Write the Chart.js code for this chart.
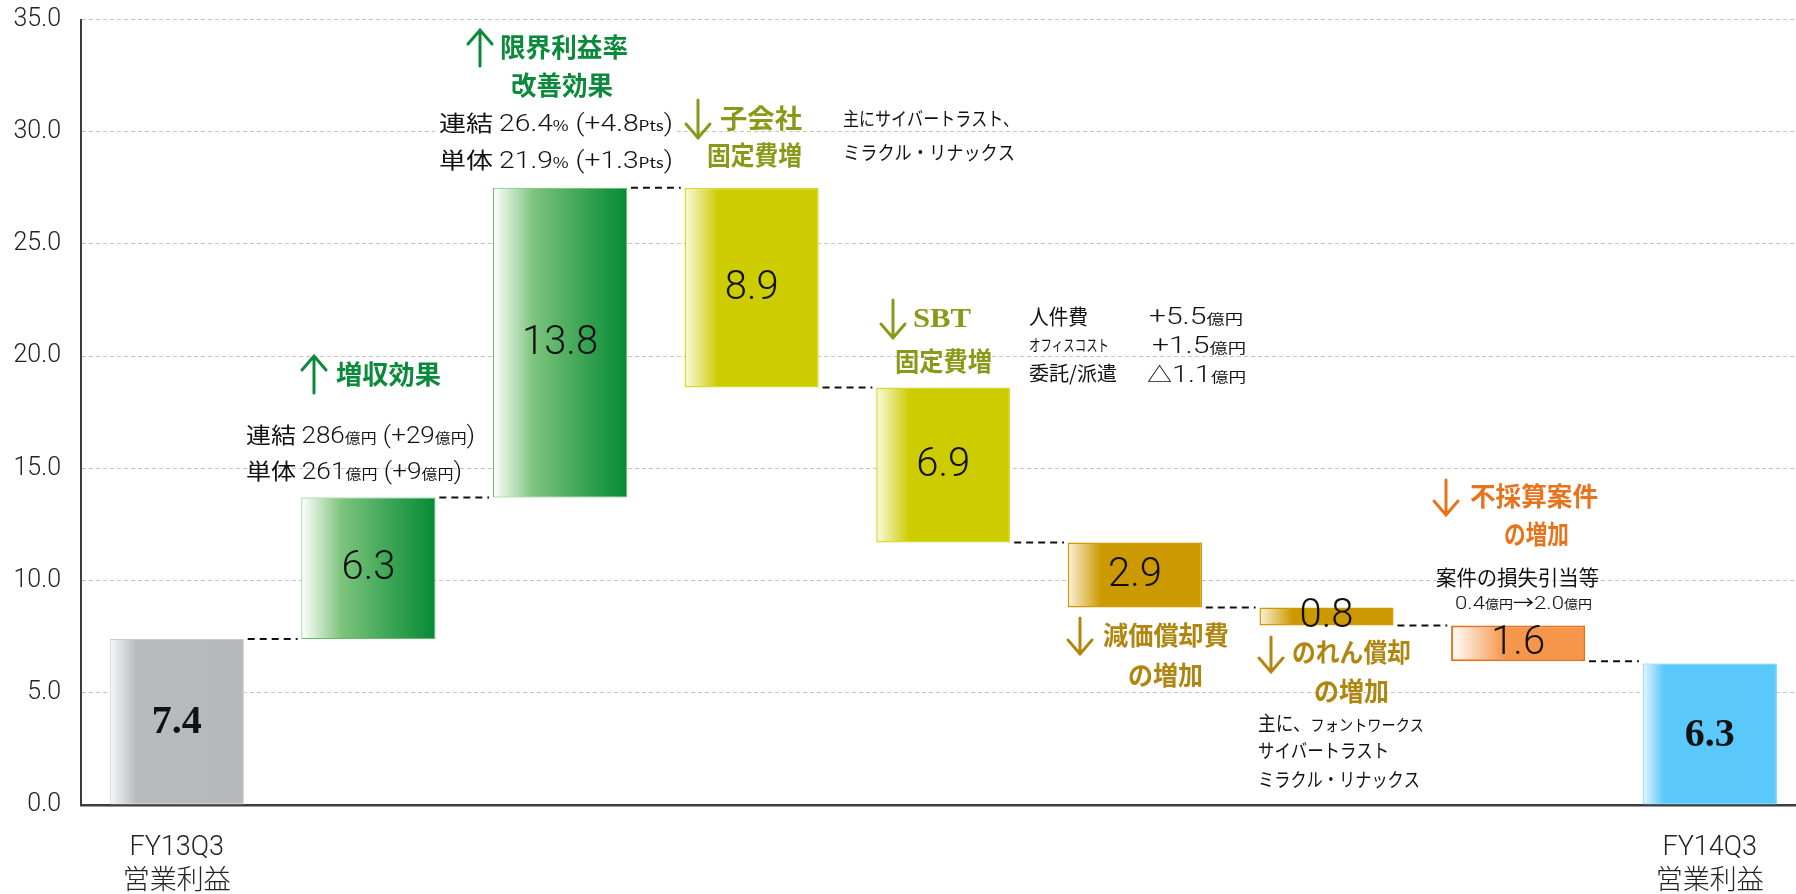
<!DOCTYPE html>
<html lang="ja">
<head>
<meta charset="UTF-8">
<title>営業利益 増減分析</title>
<script src="https://cdn.jsdelivr.net/npm/chart.js@4.4.1/dist/chart.umd.min.js"></script>
<style>
  html, body { margin: 0; padding: 0; background: #fff; }
  .box { width: 1796px; height: 894px; }
</style>
</head>
<body>
<div class="box"><canvas id="wf" width="1796" height="894"></canvas></div>
<script>
// data
var categories = ['FY13Q3 営業利益', '増収効果', '限界利益率改善効果', '子会社固定費増',
  'SBT固定費増', '減価償却費の増加', 'のれん償却の増加', '不採算案件の増加', 'FY14Q3 営業利益'];
var tickLabels = [['FY13Q3', '営業利益'], '', '', '', '', '', '', '', ['FY14Q3', '営業利益']];
var startValue = 7.4;
var steps = [6.3, 13.8, -8.9, -6.9, -2.9, -0.8, -1.6];
var endValue = 6.3;
var valueLabels = ['7.4', '6.3', '13.8', '8.9', '6.9', '2.9', '0.8', '1.6', '6.3'];
var barKind = ['gray', 'green', 'green', 'yellow', 'yellow', 'gold', 'gold', 'orange', 'blue'];

var fills = {
  gray:   { solid: '#b7babd', border: '#c9cbcd', width: 1, stops: [[0, '#f7f7f8'], [0.2, '#b8bbbe'], [1, '#b6b9bc']] },
  green:  { solid: '#3ea657', border: '#66bb6a', width: 1, stops: [[0, '#ffffff'], [0.3, '#7dc47c'], [0.65, '#3ea657'], [1, '#058a36']] },
  yellow: { solid: '#cccc00', border: '#d8d82e', width: 1.5, stops: [[0, '#fbfae0'], [0.25, '#cccc00'], [1, '#cccc00']] },
  gold:   { solid: '#cc9900', border: '#cc9900', width: 1.5, stops: [[0, '#fbf2da'], [0.25, '#cc9900'], [1, '#cc9900']] },
  orange: { solid: '#f5964a', border: '#e3701a', width: 2, stops: [[0, '#ffffff'], [0.4, '#f5964a'], [1, '#f5964a']] },
  blue:   { solid: '#5bc8fb', border: '#5bc8fb', width: 1, stops: [[0, '#e6f7ff'], [0.16, '#5bc8fb'], [1, '#5bc8fb']] }
};

// waterfall spans
var bars = [], levels = [];
var run = startValue;
bars.push({ x: 0, y: [0, startValue] });
levels.push(run);
steps.forEach(function (s, k) {
  var next = Math.round((run + s) * 10) / 10;
  bars.push({ x: k + 1, y: [Math.min(run, next), Math.max(run, next)] });
  run = next;
  levels.push(run);
});
bars.push({ x: bars.length, y: [0, endValue] });

var connectors = [];
levels.forEach(function (v, i) {
  connectors.push({ x: i + 0.37, y: v }, { x: i + 0.63, y: v }, { x: i + 0.5, y: null });
});

function barFill(c) {
  var ch = c.chart, xs = ch.scales.x;
  var i = c.dataIndex;
  if (i == null || !barKind[i]) return '#ccc';
  var f = fills[barKind[i]];
  if (!xs) return f.solid;
  var x0 = xs.getPixelForValue(i - 0.35), x1 = xs.getPixelForValue(i + 0.35);
  if (!isFinite(x0) || !isFinite(x1) || x0 === x1) return f.solid;
  var g = ch.ctx.createLinearGradient(x0, 0, x1, 0);
  f.stops.forEach(function (s) { g.addColorStop(s[0], s[1]); });
  return g;
}

var JP = "'Noto Sans CJK JP', sans-serif";
var NUM = "Roboto, 'Noto Sans CJK JP', sans-serif";
var GREEN = '#0b8a3b', OLIVE = '#8a9a18', GOLD = '#b08610', ORANGE = '#e8731c';

// [text, size, weight, family]
var notes = [
  { x: 336, y: 375, w: 105, color: GREEN, runs: [['増収効果', 26, 'bold']] },
  { x: 246, y: 435, w: 229, runs: [['連結 ', 22], ['286', 23, '300', NUM], ['億円', 14], [' (+29', 23, '300', NUM], ['億円', 14], [')', 23, '300', NUM]] },
  { x: 246, y: 471, w: 216, runs: [['単体 ', 22], ['261', 23, '300', NUM], ['億円', 14], [' (+9', 23, '300', NUM], ['億円', 14], [')', 23, '300', NUM]] },
  { x: 500, y: 48, w: 128, color: GREEN, bg: true, runs: [['限界利益率', 26, 'bold']] },
  { x: 511, y: 86, w: 102, color: GREEN, runs: [['改善効果', 26, 'bold']] },
  { x: 439, y: 123, w: 234, bg: true, runs: [['連結 ', 22], ['26.4', 23, '300', NUM], ['%', 14], [' (+4.8', 23, '300', NUM], ['Pts', 14], [')', 23, '300', NUM]] },
  { x: 439, y: 160, w: 234, runs: [['単体 ', 22], ['21.9', 23, '300', NUM], ['%', 14], [' (+1.3', 23, '300', NUM], ['Pts', 14], [')', 23, '300', NUM]] },
  { x: 720, y: 119, w: 82, color: OLIVE, runs: [['子会社', 26, 'bold']] },
  { x: 707, y: 156, w: 95, color: OLIVE, runs: [['固定費増', 26, 'bold']] },
  { x: 843, y: 119, w: 176, runs: [['主にサイバートラスト、', 19]] },
  { x: 843, y: 153, w: 172, runs: [['ミラクル・リナックス', 19]] },
  { x: 913, y: 317, w: 58, color: OLIVE, runs: [['SBT', 28, 'bold', "'Liberation Serif', serif"]] },
  { x: 895, y: 362, w: 97, color: OLIVE, runs: [['固定費増', 26, 'bold']] },
  { x: 1029, y: 316, w: 59, runs: [['人件費', 21]] },
  { x: 1149, y: 316, w: 94, runs: [['+5.5', 23, '300', NUM], ['億円', 14]] },
  { x: 1029, y: 345, w: 80, runs: [['オフィスコスト', 16]] },
  { x: 1152, y: 345, w: 94, runs: [['+1.5', 23, '300', NUM], ['億円', 14]] },
  { x: 1029, y: 374, w: 88, runs: [['委託/派遣', 20]] },
  { x: 1147, y: 374, w: 99, runs: [['△', 20], ['1.1', 23, '300', NUM], ['億円', 14]] },
  { x: 1103, y: 636, w: 126, color: GOLD, runs: [['減価償却費', 26, 'bold']] },
  { x: 1128, y: 676, w: 75, color: GOLD, runs: [['の増加', 26, 'bold']] },
  { x: 1292, y: 653, w: 119, color: GOLD, runs: [['のれん償却', 26, 'bold']] },
  { x: 1314, y: 692, w: 75, color: GOLD, runs: [['の増加', 26, 'bold']] },
  { x: 1258, y: 724, w: 166, runs: [['主に、', 20], ['フォントワークス', 16]] },
  { x: 1258, y: 751, w: 131, runs: [['サイバートラスト', 19]] },
  { x: 1258, y: 780, w: 162, runs: [['ミラクル・リナックス', 19]] },
  { x: 1470, y: 497, w: 128, color: ORANGE, runs: [['不採算案件', 26, 'bold']] },
  { x: 1504, y: 535, w: 65, color: ORANGE, runs: [['の増加', 26, 'bold']] },
  { x: 1436, y: 577, w: 163, runs: [['案件の損失引当等', 21]] },
  { x: 1455, y: 602, w: 137, runs: [['0.4', 19, '300', NUM], ['億円', 12], ['→', 18], ['2.0', 19, '300', NUM], ['億円', 12]] }
];
var arrows = [
  { x: 314, top: 356, bottom: 393, up: true, color: GREEN },
  { x: 480, top: 30, bottom: 66, up: true, color: GREEN },
  { x: 698, top: 100, bottom: 138, up: false, color: OLIVE },
  { x: 893, top: 300, bottom: 338, up: false, color: OLIVE },
  { x: 1080, top: 618, bottom: 654, up: false, color: GOLD },
  { x: 1271, top: 637, bottom: 672, up: false, color: GOLD },
  { x: 1446, top: 480, bottom: 515, up: false, color: ORANGE }
];

function fontOf(r) {
  return (r[2] || 'normal') + ' ' + r[1] + 'px ' + (r[3] || JP);
}

var notesPlugin = {
  id: 'notes',
  afterDatasetsDraw: function (chart) {
    var ctx = chart.ctx, xs = chart.scales.x, ys = chart.scales.y;
    ctx.save();
    // value labels inside bars
    ctx.textAlign = 'center';
    ctx.textBaseline = 'middle';
    ctx.fillStyle = '#111';
    bars.forEach(function (b, i) {
      var bold = (i === 0 || i === bars.length - 1);
      ctx.font = bold ? "bold 40px 'Liberation Serif', serif" : '300 40px ' + NUM;
      ctx.fillText(valueLabels[i], xs.getPixelForValue(i), ys.getPixelForValue((b.y[0] + b.y[1]) / 2) + 1);
    });
    // annotation text
    ctx.textAlign = 'left';
    ctx.textBaseline = 'alphabetic';
    notes.forEach(function (n) {
      var total = 0, main = 0;
      n.runs.forEach(function (r) { ctx.font = fontOf(r); total += ctx.measureText(r[0]).width; main = Math.max(main, r[1]); });
      var sx = n.w ? n.w / total : 1;
      if (n.bg) {
        ctx.fillStyle = '#fff';
        ctx.fillRect(n.x - 4, n.y - main * 0.6, n.w + 8, main * 1.2);
      }
      ctx.save();
      ctx.translate(n.x, n.y + main * 0.36);
      ctx.scale(sx, 1);
      ctx.fillStyle = n.color || '#111';
      var cx = 0;
      n.runs.forEach(function (r) {
        ctx.font = fontOf(r);
        ctx.fillText(r[0], cx, 0);
        cx += ctx.measureText(r[0]).width;
      });
      ctx.restore();
    });
    // arrows
    arrows.forEach(function (a) {
      var tip = a.up ? a.top : a.bottom, dir = a.up ? 1 : -1;
      ctx.strokeStyle = a.color;
      ctx.lineWidth = 3;
      ctx.lineCap = 'round';
      ctx.beginPath();
      ctx.moveTo(a.x, a.top);
      ctx.lineTo(a.x, a.bottom);
      ctx.moveTo(a.x - 12, tip + dir * 14);
      ctx.lineTo(a.x, tip);
      ctx.lineTo(a.x + 12, tip + dir * 14);
      ctx.stroke();
    });
    ctx.restore();
  }
};

new Chart(document.getElementById('wf'), {
  data: {
    datasets: [
      {
        type: 'bar',
        data: bars,
        backgroundColor: barFill,
        borderColor: function (c) { return barKind[c.dataIndex] ? fills[barKind[c.dataIndex]].border : '#ccc'; },
        borderWidth: function (c) { return barKind[c.dataIndex] ? fills[barKind[c.dataIndex]].width : 1; },
        borderSkipped: false,
        barPercentage: 0.7,
        categoryPercentage: 1
      },
      {
        type: 'line',
        data: connectors,
        borderColor: '#111',
        borderWidth: 2,
        borderDash: [7, 5],
        pointRadius: 0,
        spanGaps: false,
        fill: false
      }
    ]
  },
  options: {
    responsive: false,
    animation: false,
    events: [],
    layout: { padding: { top: 19.5, right: 0, bottom: 0, left: 0 } },
    plugins: { legend: { display: false }, tooltip: { enabled: false } },
    scales: {
      x: {
        type: 'linear',
        offset: false,
        min: -0.5,
        max: 8.45,
        grid: { display: false, drawTicks: false },
        border: { display: true, color: '#3c3c3c', width: 2.5 },
        afterFit: function (s) { s.height = 89; },
        ticks: {
          stepSize: 1,
          includeBounds: false,
          autoSkip: false,
          maxRotation: 0,
          padding: 26,
          color: '#222',
          font: { family: NUM, size: 27, weight: '300', lineHeight: 1.26 },
          callback: function (v) { return tickLabels[v] === undefined ? '' : tickLabels[v]; }
        }
      },
      y: {
        min: 0,
        max: 35,
        afterFit: function (s) { s.width = 81; s.paddingTop = 0; s.paddingBottom = 0; },
        grid: { color: '#c6c6c6', lineWidth: 1, drawTicks: false },
        border: { display: true, color: '#3c3c3c', width: 2, dash: [4, 3] },
        ticks: {
          stepSize: 5,
          padding: 20,
          color: '#222',
          font: { family: NUM, size: 25, weight: '300' },
          callback: function (v) { return v.toFixed(1); }
        }
      }
    }
  },
  plugins: [notesPlugin]
});
</script>
</body>
</html>
